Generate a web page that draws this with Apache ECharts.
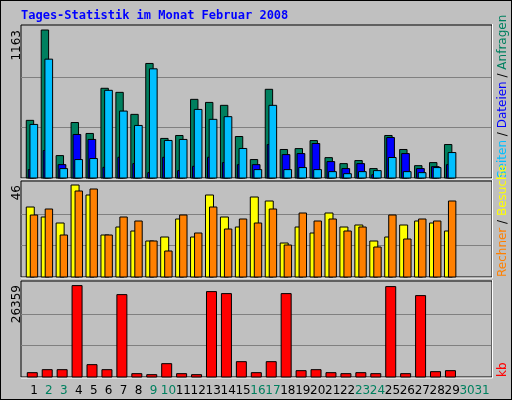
<!DOCTYPE html>
<html><head><meta charset="utf-8">
<script src="https://cdn.jsdelivr.net/npm/echarts@6/dist/echarts.min.js"></script>
<style>html,body{margin:0;padding:0;background:#fff}#c{width:510px;height:398px;border:1px solid #000;background:#c0c0c0}</style>
</head><body><div id="c"></div>
<script>
const days = ['1','2','3','4','5','6','7','8','9','10','11','12','13','14','15','16','17','18','19','20','21','22','23','24','25','26','27','28','29','30','31'];
const weekend = ['2','3','9','10','16','17','23','24','30','31'];
const anfragen = [453,1163,176,436,350,705,673,500,900,311,334,618,594,571,326,145,697,224,231,294,160,113,137,74,334,224,97,121,263];
const dateien  = [66,216,105,342,303,84,163,113,42,163,58,92,163,121,105,105,263,184,192,271,129,74,113,26,318,192,74,89,105];
const seiten   = [421,934,74,145,153,689,526,413,858,295,303,539,461,482,232,66,571,66,82,66,50,34,50,58,161,50,42,82,200];
const besuche  = [35,30,27,46,41,21,25,23,18,20,29,20,41,30,25,40,38,17,25,22,32,25,26,18,20,26,28,27,23];
const rechner  = [31,34,21,43,44,21,30,28,18,13,31,22,35,24,29,27,34,16,32,28,29,23,25,15,31,19,29,28,38];
const kb       = [1250,2116,2116,26359,3560,2116,23760,962,673,3848,962,673,24627,24050,4425,1250,4425,24050,1828,2116,1250,962,1250,962,26070,962,23473,1539,1828];
const max1 = 1163, max2 = 46, max3 = 26359;

const L = 25.5, R = 21.5;
const P = [{top:25,h:152,max:max1*152/148},{top:181,h:95,max:max2*95/92},{top:281,h:95,max:max3*95/91.4}];
const grid = P.map(p=>({left:L,right:R,top:p.top,height:p.h}));
const xAxis = P.map((p,i)=>({type:'category',gridIndex:i,data:days,axisLine:{show:false},axisTick:{show:false},
  axisLabel:i<2?{show:false}:{show:true,interval:0,margin:8,fontFamily:'DejaVu Sans',fontSize:12,
    formatter:v=>weekend.includes(v)?'{g|'+v+'}':'{b|'+v+'}',rich:{g:{color:'#00805f',fontSize:12,fontFamily:'DejaVu Sans'},b:{color:'#000',fontSize:12,fontFamily:'DejaVu Sans'}}}}));
const yAxis = P.map((p,i)=>({type:'value',gridIndex:i,min:0,max:p.max,show:false}));

function bars(data,gi,color,x0,x1){
  return {type:'custom',xAxisIndex:gi,yAxisIndex:gi,data:data.map((v,i)=>[i,v]),
    renderItem:(params,api)=>{const a=api.coord([api.value(0),api.value(1)]);const b=api.coord([api.value(0),0]);
      return {type:'rect',shape:{x:a[0]+x0,y:a[1],width:x1-x0,height:b[1]-a[1]},style:{fill:color,stroke:'#000',lineWidth:1}};}};
}
const series=[
  bars(anfragen,0,'#00805f',-7.7,-0.3),
  bars(dateien,0,'#0000ff',-5.7,2),
  bars(seiten,0,'#00bfff',-4,3.7),
  bars(besuche,1,'#ffff00',-7.7,0.3),
  bars(rechner,1,'#ff8000',-3.7,3.7),
  bars(kb,2,'#ff0000',-6.7,3.3)
];
const g=[];
P.forEach((p,i)=>{
  for(const f of [1/3,2/3]){const y=Math.round(p.top+p.h*(1-f))+0.5;
    g.push({type:'line',z:-1,shape:{x1:20,y1:y,x2:490,y2:y},style:{stroke:'#808080',lineWidth:1}});}
  g.push({type:'rect',z:-2,shape:{x:20,y:p.top-1,width:471,height:p.h+1},style:{fill:'none',stroke:'#000',lineWidth:1}});
  g.push({type:'polyline',z:-1,shape:{points:[[491.5,p.top-2],[491.5,p.top+p.h+1],[20,p.top+p.h+1]]},style:{stroke:'#fff',lineWidth:1,fill:'none'}});
});
const ft='12px DejaVu Sans';
[['1163',29],['46',184],['26359',284]].forEach(([t,y])=>g.push({type:'text',x:16,y:y,rotation:Math.PI/2,
  style:{text:t,font:ft,fill:'#000',align:'right',verticalAlign:'middle'}}));
g.push({type:'text',x:20,y:15,style:{text:'Tages-Statistik im Monat Februar 2008',font:'bold 12px DejaVu Sans Mono',fill:'#0000ff',verticalAlign:'middle'}});
function rlabel(y,parts){g.push({type:'text',x:502,y:y,rotation:Math.PI/2,
  style:{text:parts.map(p=>'{'+p[1]+'|'+p[0]+'}').join(''),font:ft,align:'left',verticalAlign:'middle',
   rich:{c:{fill:'#00bfff',font:ft},b:{fill:'#0000ff',font:ft},g:{fill:'#00805f',font:ft},k:{fill:'#000',font:ft},y:{fill:'#ffff00',font:ft},o:{fill:'#ff8000',font:ft},r:{fill:'#ff0000',font:ft}}}});}
rlabel(177,[['Seiten','c'],[' / ','k'],['Dateien','b'],[' / ','k'],['Anfragen','g']]);
rlabel(276,[['Rechner','o'],[' / ','k'],['Besuche','y']]);
rlabel(376,[['kb','r']]);
const chart=echarts.init(document.getElementById('c'));
chart.setOption({animation:false,backgroundColor:'#c0c0c0',grid,xAxis,yAxis,series,graphic:g});
</script></body></html>
